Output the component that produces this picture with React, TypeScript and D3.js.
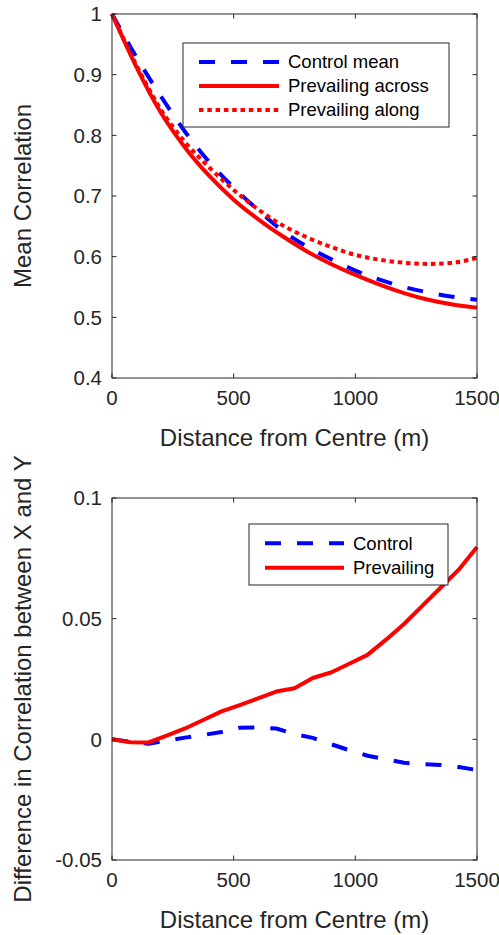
import React from 'react';
import * as d3 from 'd3';

// top panel: mean correlation vs distance (sampled every 100 m)
const distTop = [0, 100, 200, 300, 400, 500, 600, 700, 800, 900, 1000, 1100, 1200, 1300, 1400, 1500];
const controlMean = [1.0, 0.929, 0.865, 0.806, 0.756, 0.714, 0.677, 0.643, 0.617, 0.596, 0.577, 0.562, 0.55, 0.541, 0.534, 0.529];
const prevailingAcross = [1.0, 0.913, 0.838, 0.78, 0.733, 0.694, 0.662, 0.634, 0.609, 0.588, 0.57, 0.554, 0.54, 0.529, 0.521, 0.516];
const prevailingAlong = [1.0, 0.916, 0.843, 0.789, 0.747, 0.71, 0.678, 0.652, 0.632, 0.616, 0.603, 0.595, 0.59, 0.588, 0.59, 0.598];

// bottom panel: difference in correlation between X and Y (every 75 m)
const distBottom = [0, 75, 150, 225, 300, 375, 450, 525, 600, 675, 750, 825, 900, 975, 1050, 1125, 1200, 1275, 1350, 1425, 1500];
const diffControl = [0, -0.001, -0.0018, -0.0005, 0.0007, 0.0018, 0.003, 0.0048, 0.0049, 0.0045, 0.0022, 0.0006, -0.002, -0.0045, -0.0068, -0.0083, -0.0097, -0.0103, -0.0106, -0.0115, -0.0127];
const diffPrevailing = [0, -0.0012, -0.0013, 0.0015, 0.0045, 0.008, 0.0116, 0.0142, 0.017, 0.0198, 0.0212, 0.0254, 0.0277, 0.0313, 0.035, 0.0412, 0.0478, 0.0553, 0.0628, 0.0703, 0.0797];

const xTicks = [0, 500, 1000, 1500];
const yTicksTop = [0.4, 0.5, 0.6, 0.7, 0.8, 0.9, 1];
const yTicksBottom = [-0.05, 0, 0.05, 0.1];

const AXIS = '#262626';
const FONT = 'Liberation Sans, Arial, sans-serif';

type Series = { name: string; values: number[]; color: string; dash?: string };

type PanelProps = {
  top: number;
  bottom: number;
  yDomain: [number, number];
  yTicks: number[];
  yFmt: (v: number) => string;
  xs: number[];
  series: Series[];
  curve: d3.CurveFactory;
  yLabel: string;
  legend: { x: number; y: number; w: number; rowH: number; lineW: number };
};

const left = 112;
const right = 477;

const Panel = ({ top, bottom, yDomain, yTicks, yFmt, xs, series, curve, yLabel, legend }: PanelProps) => {
  const x = d3.scaleLinear().domain([0, 1500]).range([left, right]);
  const y = d3.scaleLinear().domain(yDomain).range([bottom, top]);
  const line = d3.line<number>()
    .x((_, i) => x(xs[i]))
    .y(d => y(d))
    .curve(curve);
  const tl = 4.5;
  const legH = legend.rowH * series.length + 12;

  return (
    <g>
      {series.map(s => (
        <path key={s.name} d={line(s.values) || ''} fill="none" stroke={s.color}
          strokeWidth={4} strokeDasharray={s.dash} strokeLinejoin="round" />
      ))}
      <rect x={left} y={top} width={right - left} height={bottom - top} fill="none" stroke={AXIS} strokeWidth={1} />
      {xTicks.map(t => (
        <g key={'x' + t}>
          <line x1={x(t)} x2={x(t)} y1={bottom} y2={bottom - tl} stroke={AXIS} />
          <line x1={x(t)} x2={x(t)} y1={top} y2={top + tl} stroke={AXIS} />
          <text x={x(t)} y={bottom + 27} textAnchor="middle" fontSize={20.5} fill={AXIS}>{t}</text>
        </g>
      ))}
      {yTicks.map(t => (
        <g key={'y' + t}>
          <line x1={left} x2={left + tl} y1={y(t)} y2={y(t)} stroke={AXIS} />
          <line x1={right} x2={right - tl} y1={y(t)} y2={y(t)} stroke={AXIS} />
          <text x={left - 10} y={y(t)} dy="0.36em" textAnchor="end" fontSize={20.5} fill={AXIS}>{yFmt(t)}</text>
        </g>
      ))}
      <text x={(left + right) / 2} y={bottom + 68} textAnchor="middle" fontSize={24} fill={AXIS}>
        Distance from Centre (m)
      </text>
      <text transform={`translate(31,${(top + bottom) / 2}) rotate(-90)`} textAnchor="middle" fontSize={24} fill={AXIS}>
        {yLabel}
      </text>
      <g transform={`translate(${legend.x},${legend.y})`}>
        <rect x={0} y={0} width={legend.w} height={legH} fill="#fff" stroke={AXIS} strokeWidth={1} />
        {series.map((s, i) => {
          const cy = 6 + legend.rowH * (i + 0.5) + 1;
          return (
            <g key={s.name}>
              <line x1={16} x2={16 + legend.lineW} y1={cy} y2={cy} stroke={s.color} strokeWidth={4} strokeDasharray={s.dash} />
              <text x={16 + legend.lineW + 9} y={cy} dy="0.35em" fontSize={18.5} fill="#000">{s.name}</text>
            </g>
          );
        })}
      </g>
    </g>
  );
};

export default function App() {
  const topSeries: Series[] = [
    { name: 'Control mean', values: controlMean, color: '#0000ff', dash: '16,16' },
    { name: 'Prevailing across', values: prevailingAcross, color: '#ff0000' },
    { name: 'Prevailing along', values: prevailingAlong, color: '#ff0000', dash: '4.5,3.8' },
  ];
  const bottomSeries: Series[] = [
    { name: 'Control', values: diffControl, color: '#0000ff', dash: '16,16' },
    { name: 'Prevailing', values: diffPrevailing, color: '#ff0000' },
  ];

  return (
    <svg width={499} height={935} style={{ position: 'fixed', left: 0, top: 0, background: '#fff' }} fontFamily={FONT}>
      <Panel top={14} bottom={378} yDomain={[0.4, 1]} yTicks={yTicksTop} yFmt={v => (v === 1 ? '1' : d3.format('.1f')(v))}
        xs={distTop} series={topSeries} curve={d3.curveMonotoneX} yLabel="Mean Correlation"
        legend={{ x: 183, y: 43, w: 266, rowH: 24, lineW: 80 }} />
      <Panel top={498} bottom={860} yDomain={[-0.05, 0.1]} yTicks={yTicksBottom}
        yFmt={v => (v === 0 ? '0' : String(v))}
        xs={distBottom} series={bottomSeries} curve={d3.curveLinear} yLabel="Difference in Correlation between X and Y"
        legend={{ x: 249, y: 524, w: 199, rowH: 24.5, lineW: 79 }} />
    </svg>
  );
}
